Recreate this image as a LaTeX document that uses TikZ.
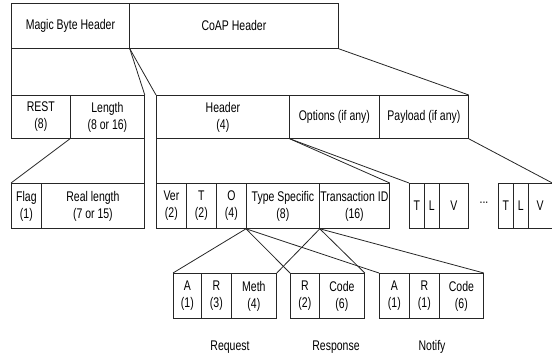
\documentclass[tikz,border=0pt]{standalone}
\usepackage{fontspec}
\setmainfont[FakeStretch=0.75]{Liberation Sans}
\begin{document}
\begin{tikzpicture}[x=1pt,y=-1pt,
  fld/.style={draw=black!85, line width=0.8pt, rectangle, inner sep=0pt, anchor=north west, align=center,
    font=\fontsize{14}{17}\selectfont, minimum width=#1},
  r1/.style={fld=#1, minimum height=45pt},
  r2/.style={fld=#1, minimum height=43pt},
  conn/.style={draw=black!85, line width=0.8pt},
  lbl/.style={font=\fontsize{14}{17}\selectfont, inner sep=0pt}]
\useasboundingbox (0,0) rectangle (552,356);
% top row
\node[r1=118pt] (magic) at (11,3) {Magic Byte Header};
\node[r1=209pt] (coap) at (129,3) {CoAP Header};
% second row
\node[r2=59pt] (rest) at (11,95) {REST\\(8)};
\node[r2=74pt] (len) at (70,95) {Length\\(8 or 16)};
\node[r2=133pt] (hdr) at (156,95) {Header\\(4)};
\node[r2=90pt] (opt) at (289,95) {Options (if any)};
\node[r2=89pt] (pay) at (379,95) {Payload (if any)};
% third row
\node[r1=30pt] (flag) at (11,183) {Flag\\(1)};
\node[r1=103pt] (rl) at (41,183) {Real length\\(7 or 15)};
\node[r1=30pt] (ver) at (156,183) {Ver\\(2)};
\node[r1=30pt] (t) at (186,183) {T\\(2)};
\node[r1=30pt] (o) at (216,183) {O\\(4)};
\node[r1=73pt] (ts) at (246,183) {Type Specific\\(8)};
\node[r1=70pt] (tid) at (319,183) {Transaction ID\\(16)};
\node[r1=15pt] (at) at (409,183) {T};
\node[r1=15pt] (al) at (424,183) {L};
\node[r1=29pt] (av) at (439,183) {V};
\node[lbl] (dots) at (484,203) {...};
\node[r1=15pt] (bt) at (498,183) {T};
\node[r1=15pt] (bl) at (513,183) {L};
\node[r1=23.5pt] (bv) at (528,183) {V};
% bottom row
\node[r1=28pt] (qa) at (173,273) {A\\(1)};
\node[r1=30pt] (qr) at (201,273) {R\\(3)};
\node[r1=45pt] (qm) at (231,273) {Meth\\(4)};
\node[r1=29pt] (pr) at (290,273) {R\\(2)};
\node[r1=45pt] (pc) at (319,273) {Code\\(6)};
\node[r1=30pt] (na) at (379,273) {A\\(1)};
\node[r1=30pt] (nr) at (409,273) {R\\(1)};
\node[r1=44pt] (nc) at (439,273) {Code\\(6)};
\node[lbl] (lreq) at (230,347) {Request};
\node[lbl] (lres) at (336,347) {Response};
\node[lbl] (lnot) at (432,347) {Notify};
% connectors
\draw[conn] (magic.south west) -- (rest.north west);
\draw[conn] (magic.south east) -- (len.north east);
\draw[conn] (magic.south east) -- (hdr.north west);
\draw[conn] (coap.south east) -- (pay.north east);
\draw[conn] (len.south west) -- (flag.north west);
\draw[conn] (len.south east) -- (rl.north east);
\draw[conn] (hdr.south west) -- (ver.north west);
\draw[conn] (hdr.south east) -- (tid.north east);
\draw[conn] (hdr.south east) -- (at.north west);
\draw[conn] (pay.south east) -- (bv.north east);
\draw[conn] (ts.south west) -- (qa.north west);
\draw[conn] (ts.south east) -- (qm.north east);
\draw[conn] (ts.south west) -- (pr.north west);
\draw[conn] (ts.south east) -- (pc.north east);
\draw[conn] (ts.south west) -- (na.north west);
\draw[conn] (ts.south east) -- (nc.north east);
\end{tikzpicture}
\end{document}
